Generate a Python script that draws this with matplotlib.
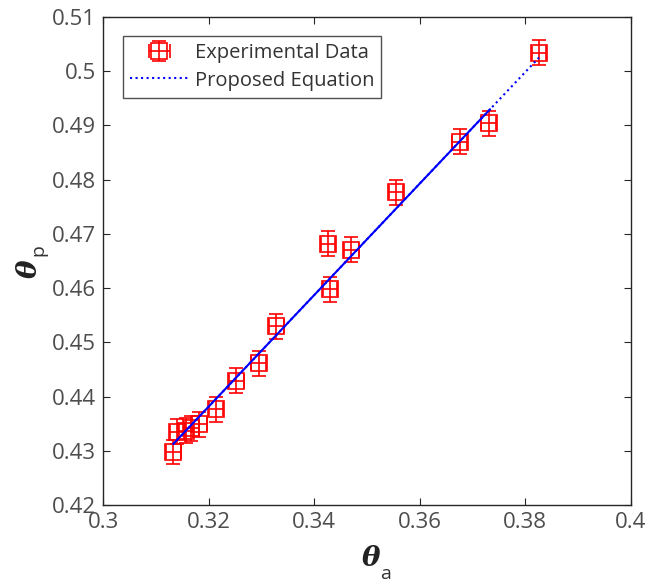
import numpy as np
import matplotlib as mpl
mpl.use('Agg')
import matplotlib.pyplot as plt

theta_a = [0.3133, 0.3140, 0.3157, 0.3167, 0.3182, 0.3214, 0.3252, 0.3295,
           0.3328, 0.3426, 0.3430, 0.3470, 0.3555, 0.3676, 0.3731, 0.3826]
theta_p = [0.4298, 0.4335, 0.4337, 0.4342, 0.4349, 0.4377, 0.4429, 0.4462,
           0.4530, 0.4682, 0.4598, 0.4671, 0.4777, 0.4870, 0.4904, 0.5034]
err_p = 0.0023
err_a = 0.0014

# Proposed equation end points
eq_x = [0.3133, 0.3826]
eq_y = [0.4313, 0.5025]
solid_end = 0.3733

mpl.rcParams.update({
    'font.family': 'Open Sans',
    'font.size': 16,
    'axes.linewidth': 1.0,
    'axes.edgecolor': '#262626',
    'xtick.color': '#262626',
    'ytick.color': '#262626',
    'xtick.labelcolor': '#4d4d4d',
    'ytick.labelcolor': '#4d4d4d',
})

fig = plt.figure(figsize=(6.45, 5.82), dpi=100)
ax = fig.add_axes([0.160, 0.132, 0.818, 0.839])

eb = ax.errorbar(theta_a, theta_p, yerr=err_p, xerr=err_a, fmt='s', color='red',
                 mfc='none', mec='red', ms=11, mew=1.2, elinewidth=1.2,
                 capsize=5, capthick=1.2, label='Experimental Data', zorder=3)

slope = (eq_y[1] - eq_y[0]) / (eq_x[1] - eq_x[0])
xs = np.array([eq_x[0], solid_end])
ax.plot(xs, eq_y[0] + slope * (xs - eq_x[0]), color='blue', lw=1.5, zorder=4)
ln, = ax.plot(eq_x, eq_y, color='blue', lw=1.5, ls=':', label='Proposed Equation', zorder=4)

ax.set_xlim(0.3, 0.4)
ax.set_ylim(0.42, 0.51)
ax.set_xticks([0.3, 0.32, 0.34, 0.36, 0.38, 0.4])
ax.set_xticklabels(['0.3', '0.32', '0.34', '0.36', '0.38', '0.4'])
ax.set_yticks(np.arange(0.42, 0.5101, 0.01))
ax.set_yticklabels(['0.42', '0.43', '0.44', '0.45', '0.46', '0.47', '0.48', '0.49', '0.5', '0.51'])
ax.tick_params(direction='in', top=True, right=True, length=5, labelsize=16, pad=5)

leg = ax.legend([eb, ln], ['Experimental Data', 'Proposed Equation'],
                loc='upper left', bbox_to_anchor=(0.038, 0.960), fontsize=14.5,
                frameon=True, fancybox=False, edgecolor='#262626',
                handlelength=2.9, borderpad=0.35, labelspacing=0.35,
                handletextpad=0.3, borderaxespad=0)
leg.get_frame().set_linewidth(1.0)
for t in leg.get_texts():
    t.set_color('#333333')

# axis labels: bold italic theta with subscript
fig.text(0.575, 0.040, '\u03b8', fontsize=20, fontweight='bold', fontstyle='italic',
         family='DejaVu Serif', ha='center', va='center', color='#222222')
fig.text(0.598, 0.014, 'a', fontsize=14, ha='center', va='center', color='#333333')
fig.text(0.045, 0.538, '\u03b8', fontsize=20, fontweight='bold', fontstyle='italic',
         family='DejaVu Serif', ha='center', va='center', rotation=90, color='#222222')
fig.text(0.060, 0.570, 'p', fontsize=14, ha='center', va='center', rotation=90, color='#333333')

fig.savefig('out.png', dpi=100)
